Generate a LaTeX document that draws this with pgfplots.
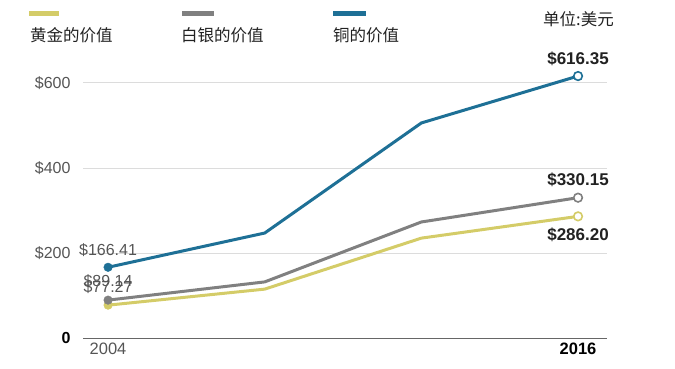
\documentclass[border=0pt]{standalone}
\usepackage{fontspec}
\setmainfont{Liberation Sans}
\newfontfamily\cjk{Noto Sans CJK SC}
\usepackage{pgfplots}
\pgfplotsset{compat=1.18}
\definecolor{gold}{RGB}{212,204,104}
\definecolor{silver}{RGB}{128,128,128}
\definecolor{copper}{RGB}{30,112,150}
\definecolor{tickc}{RGB}{85,85,85}
\definecolor{gridc}{RGB}{220,220,220}
\definecolor{txt}{RGB}{34,34,34}
\begin{document}
\begin{tikzpicture}[x=1bp,y=1bp]
\useasboundingbox (0,0) rectangle (675,368);
% legend
\fill[gold] (29,352) rectangle (59,357);
\fill[silver] (182,352) rectangle (214,357);
\fill[copper] (333,352) rectangle (366,357);
\node[anchor=west, inner sep=0, text=txt] at (30,333) {\cjk\fontsize{16.5bp}{20bp}\selectfont 黄金的价值};
\node[anchor=west, inner sep=0, text=txt] at (181,333) {\cjk\fontsize{16.5bp}{20bp}\selectfont 白银的价值};
\node[anchor=west, inner sep=0, text=txt] at (333,333) {\cjk\fontsize{16.5bp}{20bp}\selectfont 铜的价值};
\node[anchor=west, inner sep=0, text=txt] at (543,349) {\cjk\fontsize{16.5bp}{20bp}\selectfont 单位:美元};
\begin{axis}[
  at={(83bp,30bp)}, anchor=south west,
  scale only axis, width=524bp, height=276.25bp,
  xmin=2003.36, xmax=2016.74, ymin=0, ymax=650,
  axis line style={draw=none},
  clip=false,
  major tick length=0pt,
  /pgf/number format/assume math mode=true,
  ytick={200,400,600},
  yticklabels={\$200,\$400,\$600},
  ymajorgrids, grid style={gridc, line width=1bp},
  yticklabel style={font=\fontsize{16bp}{19bp}\selectfont, text=tickc, anchor=east, xshift=-9bp},
  extra y ticks={0},
  extra y tick labels={\textbf{0}},
  extra y tick style={grid=none, yticklabel style={text=black}},
  xtick={2004,2016},
  xticklabels={\textcolor{tickc}{2004},\textbf{2016}},
  xticklabel style={font=\fontsize{16.5bp}{19bp}\selectfont, text=black, yshift=-1.5bp},
]
\draw[color=tickc!90, line width=1bp] (rel axis cs:0,0) -- (rel axis cs:1,0);
% gold
\addplot[gold, line width=3bp, mark=none] coordinates {(2004,77.27) (2008,115) (2012,235) (2016,286.20)};
% silver
\addplot[silver, line width=3bp, mark=none] coordinates {(2004,89.14) (2008,132) (2012,273) (2016,330.15)};
% copper
\addplot[copper, line width=3bp, mark=none] coordinates {(2004,166.41) (2008,247) (2012,506) (2016,616.35)};
% markers
\addplot[only marks, mark=*, mark size=4.3bp, mark options={fill=gold, draw=gold}] coordinates {(2004,77.27)};
\addplot[only marks, mark=*, mark size=4.3bp, mark options={fill=silver, draw=silver}] coordinates {(2004,89.14)};
\addplot[only marks, mark=*, mark size=4.3bp, mark options={fill=copper, draw=copper}] coordinates {(2004,166.41)};
\addplot[only marks, mark=*, mark size=4.3bp, mark options={fill=white, draw=gold, line width=1.6bp}] coordinates {(2016,286.20)};
\addplot[only marks, mark=*, mark size=4.3bp, mark options={fill=white, draw=silver, line width=1.6bp}] coordinates {(2016,330.15)};
\addplot[only marks, mark=*, mark size=4.3bp, mark options={fill=white, draw=copper, line width=1.6bp}] coordinates {(2016,616.35)};
% value labels
\node[text=tickc, font=\fontsize{16bp}{19bp}\selectfont] at (axis cs:2004,207) {\$166.41};
\node[text=tickc, font=\fontsize{16bp}{19bp}\selectfont] at (axis cs:2004,120) {\$77.27};
\node[text=tickc, font=\fontsize{16bp}{19bp}\selectfont] at (axis cs:2004,134) {\$89.14};
\node[text=txt, font=\bfseries\fontsize{17bp}{20bp}\selectfont] at (axis cs:2016,656) {\$616.35};
\node[text=txt, font=\bfseries\fontsize{17bp}{20bp}\selectfont] at (axis cs:2016,372) {\$330.15};
\node[text=txt, font=\bfseries\fontsize{17bp}{20bp}\selectfont] at (axis cs:2016,242) {\$286.20};
\end{axis}
\end{tikzpicture}
\end{document}
